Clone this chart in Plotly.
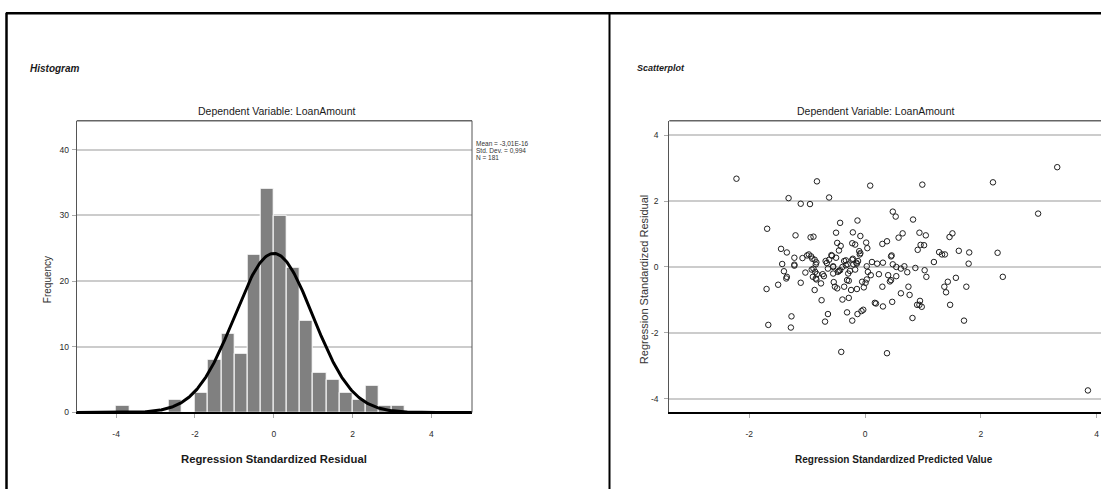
import numpy as np
import plotly.graph_objects as go

W, H = 1101, 494

# ---------------- data ----------------
# Histogram of regression standardized residuals (bins of 1/3)
bin_lo = [-4.0, -2.667, -2.0, -1.667, -1.333, -1.0, -0.667, -0.333, 0.0,
          0.333, 0.667, 1.0, 1.333, 1.667, 2.0, 2.333, 2.667, 3.0]
counts = [1, 2, 3, 8, 12, 9, 24, 34, 30, 22, 14, 6, 5, 3, 2, 4, 1, 1]
bin_width = 1 / 3
res_mean = -3.01e-16
res_sd = 0.994
res_n = 181

hist_xticks = [-4, -2, 0, 2, 4]
hist_xticktext = ["-4", "-2", "0", "2", "4"]
hist_yticks = [0, 10, 20, 30, 40]
hist_yticktext = ["0", "10", "20", "30", "40"]

# Scatterplot: standardized predicted value vs standardized residual
pred = [-2.22, -0.83, 0.09, 0.99, 2.21, 3.32, -1.32, -0.62, -1.11, -0.95,
        2.99, 0.48, 0.53, 0.83, -0.13, -0.43, -1.69, -0.50, -0.21, -1.20,
        -0.94, -0.89, -0.08, 0.65, 0.94, 1.05, 1.46, 1.51, -0.48, -0.42,
        -0.22, -0.17, 0.02, 0.04, 0.30, 0.38, 0.58, 0.91, 0.96, 1.02,
        -1.45, -1.35, -0.45, -0.10, -0.09, -0.08, 0.45, 0.46, 1.28, 1.33,
        1.38, 1.62, 1.80, 2.29, -1.22, -1.08, -0.97, -0.93, -0.87, -0.84,
        -0.68, -0.66, -0.62, -0.57, -0.50, -0.36, -0.22, -0.12, -0.14, 0.12,
        0.21, 0.31, 1.19, 1.79, -1.43, -1.22, -1.22, -0.55, -0.33, -0.20,
        0.03, 0.48, 0.54, 0.68, -1.40, -1.03, -0.92, -0.89, -0.86, -0.83,
        -0.73, -0.71, -0.55, -0.47, -0.43, -0.29, -0.26, -0.17, 0.05, 0.10,
        0.24, 0.40, 0.54, 0.73, 0.87, 1.03, 1.06, 1.57, 2.38, -1.36,
        -1.35, -1.50, -1.11, -0.90, -0.84, -0.76, -0.54, -0.52, -0.48, -0.36,
        -0.31, -0.28, 0.01, 0.03, 0.45, 0.43, 0.30, 1.43, 1.37, 1.75,
        -1.70, -0.87, -0.24, -0.14, -0.02, 0.75, 0.62, 0.77, 1.40, -0.75,
        -0.39, -0.28, 0.47, 0.17, 0.19, 0.31, 0.90, 0.94, 0.95, 0.98,
        1.47, -0.31, -0.13, -0.06, -0.03, -1.27, -0.64, -0.22, -0.69, 0.82,
        1.71, -1.67, -1.28, -0.41, 0.38, 3.85, -0.85, -0.91, -0.58, -0.33,
        -0.30, -0.39, -0.55, -0.85, -0.45, -0.21, -0.15, -0.05, 0.62, -0.64,
        -1.00]
resid = [2.68, 2.60, 2.47, 2.50, 2.57, 3.03, 2.09, 2.11, 1.92, 1.91,
         1.62, 1.68, 1.53, 1.44, 1.41, 1.34, 1.16, 1.04, 1.05, 0.96,
         0.90, 0.92, 0.94, 1.02, 1.04, 0.96, 0.91, 1.02, 0.73, 0.64,
         0.72, 0.68, 0.74, 0.57, 0.70, 0.78, 0.89, 0.52, 0.67, 0.66,
         0.55, 0.44, 0.50, 0.48, 0.38, 0.42, 0.32, 0.35, 0.45, 0.38,
         0.38, 0.49, 0.44, 0.43, 0.28, 0.27, 0.38, 0.32, 0.22, 0.14,
         0.18, 0.12, 0.22, 0.34, 0.28, 0.18, 0.22, 0.18, 0.10, 0.15,
         0.10, 0.13, 0.15, 0.10, 0.09, 0.07, 0.04, 0.02, 0.05, 0.08,
         0.02, 0.08, 0.00, 0.02, -0.13, -0.17, -0.08, -0.05, -0.15, -0.22,
         -0.22, -0.28, -0.20, -0.15, -0.10, -0.20, -0.12, -0.08, -0.15, -0.25,
         -0.22, -0.25, -0.28, -0.16, -0.03, -0.10, -0.30, -0.33, -0.30, -0.35,
         -0.30, -0.54, -0.48, -0.30, -0.38, -0.50, -0.46, -0.60, -0.65, -0.60,
         -0.40, -0.42, -0.48, -0.38, -0.40, -0.44, -0.60, -0.45, -0.60, -0.60,
         -0.67, -0.70, -0.70, -0.67, -0.62, -0.60, -0.80, -0.85, -0.77, -1.01,
         -0.99, -0.94, -1.06, -1.09, -1.11, -1.20, -1.15, -1.15, -1.03, -1.21,
         -1.15, -1.38, -1.43, -1.34, -1.30, -1.50, -1.43, -1.63, -1.66, -1.55,
         -1.63, -1.76, -1.84, -2.58, -2.62, -3.75, 0.08, 0.25, 0.36, 0.20,
         0.08, 0.00, 0.00, -0.35, -0.12, 0.25, 0.13, -0.45, -0.05, -0.05,
         0.35]

sc_xticks = [-2, 0, 2, 4]
sc_xticktext = ["-2", "0", "2", "4"]
sc_yticks = [-4, -2, 0, 2, 4]
sc_yticktext = ["-4", "-2", "0", "2", "4"]

# ---------------- helpers ----------------
def px(x):
    return x / W


def py(y):
    return 1 - y / H


NARROW = "Liberation Sans Narrow, Arial Narrow, Liberation Sans, Arial, sans-serif"
TXT = "#1a1a1a"
TICK = "#2a2a2a"
GRID = "#cccccc"

fig = go.Figure()

# histogram bars
centers = [b + bin_width / 2 for b in bin_lo]
fig.add_trace(go.Bar(
    x=centers, y=counts, width=bin_width,
    marker=dict(color="#808080", line=dict(color="white", width=1)),
    xaxis="x", yaxis="y", showlegend=False, hoverinfo="skip"))

# normal curve defined by stated mean / sd / N
xs = np.linspace(-5, 5.05, 400)
ys = res_n * bin_width * np.exp(-0.5 * ((xs - res_mean) / res_sd) ** 2) / (res_sd * np.sqrt(2 * np.pi))
fig.add_trace(go.Scatter(
    x=xs, y=ys, mode="lines", line=dict(color="black", width=3),
    xaxis="x", yaxis="y", showlegend=False, hoverinfo="skip", cliponaxis=True))

# scatter
fig.add_trace(go.Scatter(
    x=pred, y=resid, mode="markers",
    marker=dict(symbol="circle-open", size=5.5, color="#202020", line=dict(width=1)),
    xaxis="x2", yaxis="y2", showlegend=False, hoverinfo="skip"))

# plot-area geometry (pixels)
h_left, h_right = 76.7, 472.0
s_left, s_right = 669.3, 1101.0
p_top, p_bot = 122.0, 416.7

axis_common = dict(
    showgrid=False, zeroline=False, ticks="outside", ticklen=4, tickwidth=1,
    tickcolor="#aaaaaa", tickfont=dict(family=NARROW, size=8.5, color=TICK),
    fixedrange=True)
yaxis_common = {k: v for k, v in axis_common.items() if k != "showgrid"}

fig.update_layout(
    width=W, height=H, autosize=False,
    margin=dict(l=0, r=0, t=0, b=0),
    paper_bgcolor="white", plot_bgcolor="white",
    bargap=0,
    xaxis=dict(domain=[px(h_left), px(h_right)], range=[-5.0, 5.03],
               tickvals=hist_xticks, ticktext=hist_xticktext,
               showline=True, linecolor="black", linewidth=2,
               ticklabelstandoff=8, anchor="y", **axis_common),
    yaxis=dict(domain=[py(p_bot), py(p_top)], range=[0, 44.4],
               tickvals=hist_yticks, ticktext=hist_yticktext,
               showline=True, linecolor="#555555", linewidth=1,
               showgrid=True, gridcolor=GRID, gridwidth=1.5,
               anchor="x", ticklabelstandoff=1, **yaxis_common),
    xaxis2=dict(domain=[px(s_left), px(s_right)], range=[-3.38, 4.076],
                tickvals=sc_xticks, ticktext=sc_xticktext,
                showline=True, linecolor="black", linewidth=2,
                ticklabelstandoff=8, anchor="y2", **axis_common),
    yaxis2=dict(domain=[py(p_bot), py(p_top)], range=[-4.42, 4.44],
                tickvals=sc_yticks, ticktext=sc_yticktext,
                showline=True, linecolor="#555555", linewidth=1,
                showgrid=True, gridcolor=GRID, gridwidth=1.5,
                anchor="x2", ticklabelstandoff=4, **yaxis_common),
)

shapes = []
# outer frame
shapes.append(dict(type="line", xref="paper", yref="paper", x0=px(6), x1=1, y0=py(13.5), y1=py(13.5),
                   line=dict(color="black", width=2.5)))
shapes.append(dict(type="line", xref="paper", yref="paper", x0=px(6.5), x1=px(6.5), y0=py(13), y1=0,
                   line=dict(color="black", width=2.5)))
shapes.append(dict(type="line", xref="paper", yref="paper", x0=px(609.5), x1=px(609.5), y0=py(13), y1=0,
                   line=dict(color="black", width=2)))
# plot boxes: top and right borders
shapes.append(dict(type="line", xref="paper", yref="paper", x0=px(h_left), x1=px(h_right), y0=py(p_top), y1=py(p_top),
                   line=dict(color="#666666", width=1.5)))
shapes.append(dict(type="line", xref="paper", yref="paper", x0=px(h_right), x1=px(h_right), y0=py(p_top), y1=py(p_bot),
                   line=dict(color="#555555", width=1)))
shapes.append(dict(type="line", xref="paper", yref="paper", x0=px(s_left), x1=1, y0=py(p_top), y1=py(p_top),
                   line=dict(color="#666666", width=1.5)))
fig.update_layout(shapes=shapes)

ann = []


def text(x, y, s, size, bold=False, italic=False, xanchor="center", angle=0, color=TXT, family=NARROW):
    t = s
    if bold:
        t = "<b>" + t + "</b>"
    if italic:
        t = "<i>" + t + "</i>"
    ann.append(dict(xref="paper", yref="paper", x=px(x), y=py(y), text=t, showarrow=False,
                    xanchor=xanchor, yanchor="middle", textangle=angle,
                    font=dict(family=family, size=size, color=color)))


text(28, 69, "Histogram", 10, bold=True, italic=True, xanchor="left")
text(635, 69, "Scatterplot", 9, bold=True, italic=True, xanchor="left")
text(277, 112, "Dependent Variable: LoanAmount", 10.5)
text(876, 112, "Dependent Variable: LoanAmount", 10.5)
text(274, 464, "Regression Standardized Residual", 11.3, bold=True)
text(894, 464, "Regression Standardized Predicted Value", 10, bold=True)
text(47, 283, "Frequency", 10, angle=-90, color="#333333")
text(644, 283, "Regression Standardized Residual", 11, angle=-90, color="#333333")
text(474, 145, "Mean = -3,01E-16", 6.5, xanchor="left", color="#333333")
text(474, 152.3, "Std. Dev. = 0,994", 6.5, xanchor="left", color="#333333")
text(474, 159.5, "N = 181", 6.5, xanchor="left", color="#333333")

fig.update_layout(annotations=ann)

fig.write_html("out.html")
